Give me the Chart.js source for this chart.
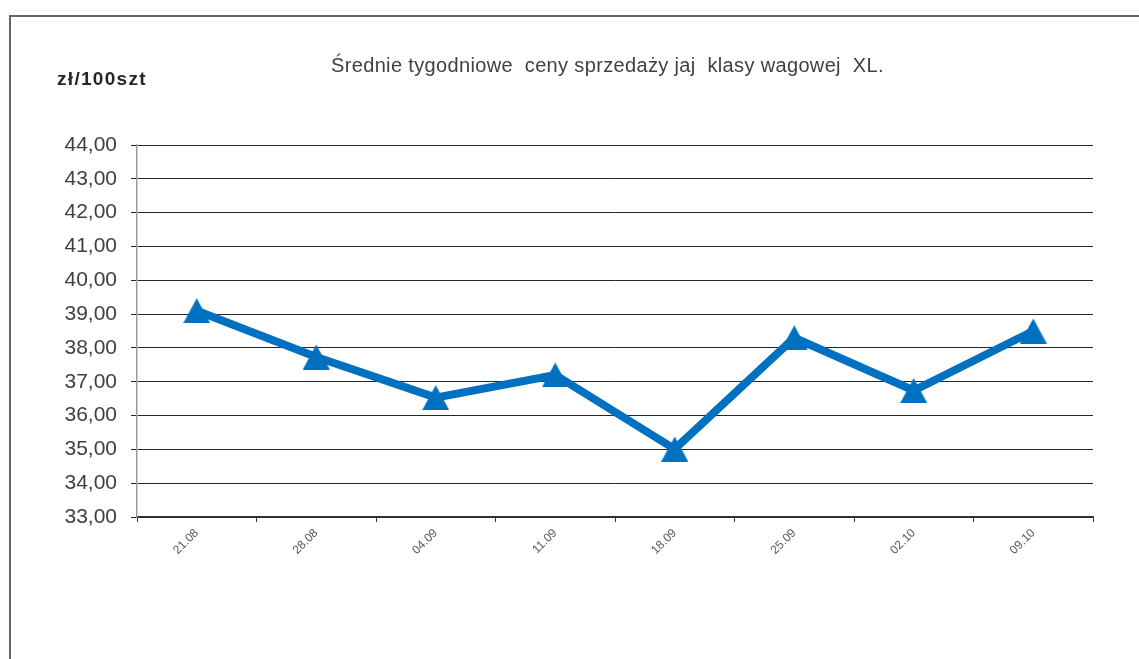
<!DOCTYPE html>
<html>
<head>
<meta charset="utf-8">
<script src="https://cdn.jsdelivr.net/npm/chart.js@4/dist/chart.umd.min.js"></script>
<style>
  html, body { margin: 0; padding: 0; background: #fff; }
  #wrap { position: relative; width: 1139px; height: 659px; overflow: hidden; font-family: "Liberation Sans", Arial, sans-serif; }
  #frame { position: absolute; left: 9px; top: 15px; width: 1200px; height: 700px; border-left: 2px solid #666; border-top: 2px solid #666; box-sizing: border-box; }
  #title { position: absolute; left: 331px; top: 54px; font-size: 20px; color: #404040; white-space: pre; letter-spacing: 0.35px; }
  #unit { position: absolute; left: 57px; top: 68px; font-size: 19px; font-weight: bold; color: #262626; white-space: pre; letter-spacing: 1.3px; }
  canvas { position: absolute; left: 0; top: 0; }
</style>
</head>
<body>
<div id="wrap">
  <div id="frame"></div>
  <canvas id="c" width="1139" height="659"></canvas>
  <div id="title">Średnie tygodniowe  ceny sprzedaży jaj  klasy wagowej  XL.</div>
  <div id="unit">zł/100szt</div>
</div>
<script>
const categories = ["21.08", "28.08", "04.09", "11.09", "18.09", "25.09", "02.10", "09.10"];
const prices = [39.10, 37.73, 36.53, 37.20, 35.01, 38.30, 36.74, 38.50];
const yMin = 33;
const yMax = 44;

// Excel-style triangle marker, centred on its bounding box
function makeTriangle(w, h, color) {
  const c = document.createElement('canvas');
  c.width = w; c.height = h;
  const g = c.getContext('2d');
  g.fillStyle = color;
  g.beginPath();
  g.moveTo(w / 2, 0);
  g.lineTo(w, h);
  g.lineTo(0, h);
  g.closePath();
  g.fill();
  return c;
}
const marker = makeTriangle(27, 25, '#0070C0');

const ctx = document.getElementById('c').getContext('2d');
new Chart(ctx, {
  type: 'line',
  data: {
    labels: categories,
    datasets: [{
      data: prices,
      borderColor: '#0070C0',
      backgroundColor: '#0070C0',
      borderWidth: 8,
      pointStyle: marker,
      pointRadius: 13,
      pointHoverRadius: 13,
      tension: 0,
      fill: false
    }]
  },
  options: {
    responsive: false,
    animation: false,
    devicePixelRatio: 1,
    layout: { padding: { left: 0, right: 46, top: 145, bottom: 0 } },
    plugins: { legend: { display: false }, title: { display: false }, tooltip: { enabled: false } },
    scales: {
      x: {
        type: 'category',
        offset: true,
        grid: { offset: true, drawOnChartArea: false, drawTicks: true, tickLength: 5, color: '#333', lineWidth: 1 },
        border: { display: true, color: '#333', width: 1.5 },
        ticks: { minRotation: 45, maxRotation: 45, color: '#595959', font: { family: 'Liberation Sans, Arial', size: 12 }, padding: 4, autoSkip: false },
        afterFit: (s) => { s.height = 142; }
      },
      y: {
        min: yMin,
        max: yMax,
        grid: { color: '#262626', lineWidth: 1, tickLength: 6, drawTicks: true },
        border: { display: true, color: '#999', width: 1.5 },
        ticks: {
          stepSize: 1,
          color: '#404040',
          padding: 14,
          font: { family: 'Liberation Sans, Arial', size: 21 },
          callback: (v) => Number(v).toFixed(2).replace('.', ',')
        },
        afterFit: (s) => { s.width = 137; }
      }
    }
  }
});
</script>
</body>
</html>
